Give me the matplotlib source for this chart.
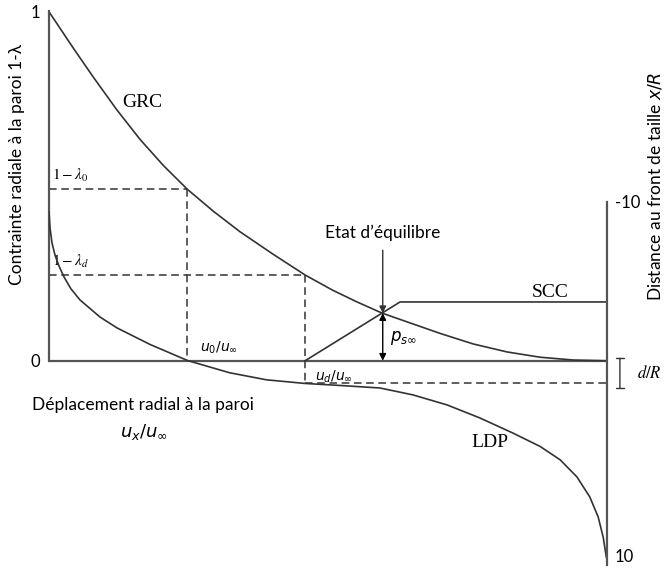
import matplotlib
matplotlib.use("Agg")
import matplotlib.pyplot as plt

# GRC : courbe caracteristique du terrain (u/u_inf, 1-lambda)
grc_u = [0.0, 0.0444, 0.0803, 0.1222, 0.164, 0.206, 0.249, 0.295, 0.343, 0.403,
         0.460, 0.510, 0.553, 0.598, 0.648, 0.702, 0.761, 0.822, 0.881, 0.940, 1.0]
grc_s = [1.0, 0.894, 0.811, 0.718, 0.633, 0.558, 0.490, 0.428, 0.369, 0.304,
         0.245, 0.201, 0.168, 0.136, 0.108, 0.078, 0.048, 0.025, 0.010, 0.002, 0.0]

# LDP : profil de deplacement longitudinal (u/u_inf, x/R)
ldp_u = [0.001, 0.0027, 0.0063, 0.0116, 0.0188, 0.0278, 0.0403, 0.0565, 0.0923,
         0.1228, 0.1819, 0.2495, 0.3244, 0.3907, 0.4597, 0.522, 0.594, 0.653,
         0.714, 0.773, 0.832, 0.881, 0.917, 0.947, 0.970, 0.985, 0.994, 0.9996]
ldp_x = [-9.45, -8.57, -7.74, -7.08, -6.47, -5.87, -5.21, -4.60, -3.66,
         -3.06, -2.15, -1.26, -0.59, -0.20, 0.0, 0.11, 0.25, 0.63,
         1.18, 1.90, 2.73, 3.47, 4.21, 5.15, 6.25, 7.35, 8.46, 9.56]

# SCC : courbe caracteristique du soutenement
scc_u = [0.460, 0.630, 1.0]
scc_s = [0.0, 0.168, 0.168]

u0, s0 = 0.249, 0.490      # 1 - lambda_0
ud, sd = 0.460, 0.245      # 1 - lambda_d
ud_level = -0.065          # niveau du trait u_d sous l'axe
u_eq, s_eq = 0.599, 0.136  # etat d'equilibre

ink = "#333333"
axc = "#555555"

plt.rcParams["font.family"] = ["Lato", "DejaVu Sans"]

fig = plt.figure(figsize=(6.67, 5.72), dpi=100)
ax = fig.add_axes([48.5 / 667, 0.0, 558 / 667, 1.0])
ax.set_xlim(0, 1)
ax.set_ylim(-0.6042, 1.0315)

ax2 = ax.twinx()
ax2.set_ylim(10.39, -21.13)

for a in (ax, ax2):
    for sp in a.spines.values():
        sp.set_visible(False)
    a.set_xticks([])
    a.patch.set_visible(False)

ax.spines["left"].set_visible(True)
ax.spines["left"].set_bounds(0, 1)
ax.spines["left"].set_color(axc)
ax.spines["left"].set_linewidth(1.6)
ax.set_yticks([0, 1])
ax.set_yticklabels(["0", "1"])
ax.tick_params(axis="y", length=0, pad=6, labelsize=12, colors="black")

ax2.spines["right"].set_visible(True)
ax2.spines["right"].set_bounds(-10, 10)
ax2.spines["right"].set_color(axc)
ax2.spines["right"].set_linewidth(1.6)
ax2.set_yticks([-10, 10])
ax2.set_yticklabels(["-10", "10"])
ax2.tick_params(axis="y", length=0, pad=6, labelsize=12, colors="black")
ax2.get_yticklabels()[1].set_va("bottom")

# axe horizontal des deplacements
ax.plot([0, 1], [0, 0], color=axc, lw=1.6)

# courbes
ax.plot(grc_u, grc_s, color=ink, lw=1.2)
ax.plot(scc_u, scc_s, color=ink, lw=1.2)
ax2.plot(ldp_u, ldp_x, color=ink, lw=1.2)

# traits pointilles
dash = dict(color=ink, lw=1.1, ls=(0, (5, 3)))
ax.plot([0, u0], [s0, s0], **dash)
ax.plot([u0, u0], [s0, 0], **dash)
ax.plot([0, ud], [sd, sd], **dash)
ax.plot([ud, ud], [sd, ud_level], **dash)
ax.plot([ud, 1], [ud_level, ud_level], **dash)

# fleches
ax.annotate("", xy=(u_eq, s_eq), xytext=(u_eq, 0.316),
            arrowprops=dict(arrowstyle="-|>", color=ink, lw=1.0,
                            mutation_scale=10, shrinkA=0, shrinkB=0))
ax.annotate("", xy=(u_eq, s_eq), xytext=(u_eq, 0),
            arrowprops=dict(arrowstyle="<|-|>", color="black", lw=1.0,
                            mutation_scale=10, shrinkA=0, shrinkB=0))
ax.annotate("", xy=(1.024, 0.007), xytext=(1.024, -0.078),
            arrowprops=dict(arrowstyle="|-|", color=ink, lw=1.0,
                            mutation_scale=3, shrinkA=0, shrinkB=0),
            annotation_clip=False)

# textes
serif = dict(family="Liberation Serif", color="black")
ax.text(0.168, 0.737, "GRC", fontsize=14, ha="center", va="center", **serif)
ax.text(0.899, 0.196, "SCC", fontsize=14, ha="center", va="center", **serif)
ax.text(0.791, -0.235, "LDP", fontsize=14, ha="center", va="center", **serif)
ax.text(0.006, 0.505, r"$1-\lambda_0$", fontsize=11, ha="left", va="bottom",
        math_fontfamily="stix")
ax.text(0.006, 0.26, r"$1-\lambda_d$", fontsize=11, ha="left", va="bottom",
        math_fontfamily="stix")
ax.text(1.055, -0.033, r"$d/R$", fontsize=12, ha="left", va="center",
        math_fontfamily="stix", clip_on=False)

ax.text(u0 + 0.056, 0.036, r"$u_0/u_\infty$", fontsize=10, ha="center",
        va="center", math_fontfamily="dejavusans")
ax.text(0.512, -0.047, r"$u_d/u_\infty$", fontsize=10, ha="center",
        va="center", math_fontfamily="dejavusans")
ax.text(0.612, 0.064, r"$p_{s\infty}$", fontsize=12, ha="left",
        va="center", math_fontfamily="dejavusans")

ax.text(u_eq, 0.367, "Etat d\u2019\u00e9quilibre", fontsize=12.5,
        ha="center", va="center")
ax.text(0.17, -0.127, "D\u00e9placement radial \u00e0 la paroi",
        fontsize=12.5, ha="center", va="center")
ax.text(0.172, -0.205, r"$u_x/u_\infty$", fontsize=13, ha="center",
        va="center", math_fontfamily="dejavusans")

ax.text(-0.0565, 0.56, "Contrainte radiale \u00e0 la paroi 1-\u03bb",
        fontsize=12.5, rotation=90, ha="center", va="center", clip_on=False)
ax.text(1.087, 0.50, r"Distance au front de taille $x/R$",
        fontsize=12.5, rotation=90, ha="center", va="center",
        math_fontfamily="dejavusans", clip_on=False)

fig.savefig("out.png", dpi=100, facecolor="white")
